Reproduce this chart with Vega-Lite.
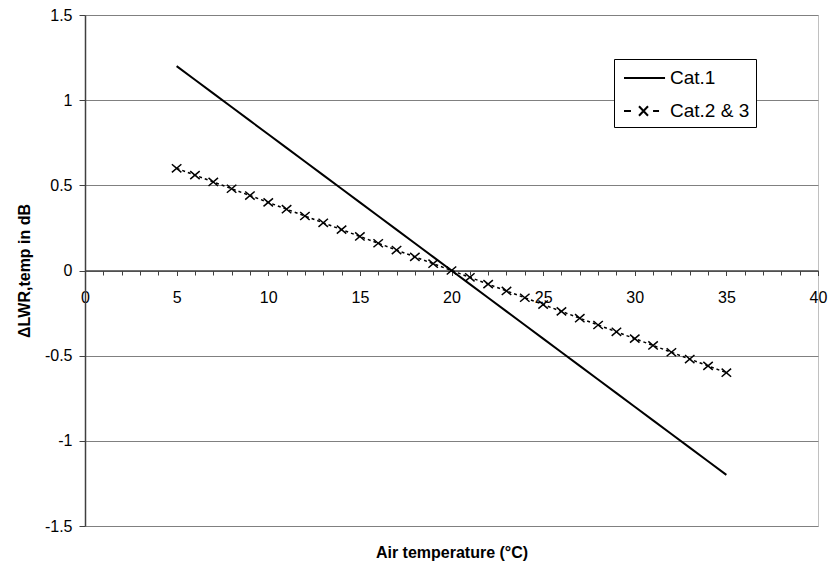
{
  "$schema": "https://vega.github.io/schema/vega-lite/v6.json",
  "width": 733,
  "height": 511,
  "autosize": {"type": "none"},
  "padding": {"left": 85, "top": 15, "right": 10, "bottom": 42},
  "background": "white",
  "config": {
    "font": "Liberation Sans",
    "view": {"stroke": "#c0c0c0", "strokeWidth": 1}
  },
  "data": {
    "values": [
      {"t": 5, "dL": 1.2, "cat": "Cat.1"}, {"t": 6, "dL": 1.12, "cat": "Cat.1"}, {"t": 7, "dL": 1.04, "cat": "Cat.1"}, {"t": 8, "dL": 0.96, "cat": "Cat.1"}, {"t": 9, "dL": 0.88, "cat": "Cat.1"}, {"t": 10, "dL": 0.8, "cat": "Cat.1"}, {"t": 11, "dL": 0.72, "cat": "Cat.1"}, {"t": 12, "dL": 0.64, "cat": "Cat.1"}, {"t": 13, "dL": 0.56, "cat": "Cat.1"}, {"t": 14, "dL": 0.48, "cat": "Cat.1"}, {"t": 15, "dL": 0.4, "cat": "Cat.1"}, {"t": 16, "dL": 0.32, "cat": "Cat.1"}, {"t": 17, "dL": 0.24, "cat": "Cat.1"}, {"t": 18, "dL": 0.16, "cat": "Cat.1"}, {"t": 19, "dL": 0.08, "cat": "Cat.1"}, {"t": 20, "dL": 0, "cat": "Cat.1"}, {"t": 21, "dL": -0.08, "cat": "Cat.1"}, {"t": 22, "dL": -0.16, "cat": "Cat.1"}, {"t": 23, "dL": -0.24, "cat": "Cat.1"}, {"t": 24, "dL": -0.32, "cat": "Cat.1"}, {"t": 25, "dL": -0.4, "cat": "Cat.1"}, {"t": 26, "dL": -0.48, "cat": "Cat.1"}, {"t": 27, "dL": -0.56, "cat": "Cat.1"}, {"t": 28, "dL": -0.64, "cat": "Cat.1"}, {"t": 29, "dL": -0.72, "cat": "Cat.1"}, {"t": 30, "dL": -0.8, "cat": "Cat.1"}, {"t": 31, "dL": -0.88, "cat": "Cat.1"}, {"t": 32, "dL": -0.96, "cat": "Cat.1"}, {"t": 33, "dL": -1.04, "cat": "Cat.1"}, {"t": 34, "dL": -1.12, "cat": "Cat.1"}, {"t": 35, "dL": -1.2, "cat": "Cat.1"},
      {"t": 5, "dL": 0.6, "cat": "Cat.2 & 3"}, {"t": 6, "dL": 0.56, "cat": "Cat.2 & 3"}, {"t": 7, "dL": 0.52, "cat": "Cat.2 & 3"}, {"t": 8, "dL": 0.48, "cat": "Cat.2 & 3"}, {"t": 9, "dL": 0.44, "cat": "Cat.2 & 3"}, {"t": 10, "dL": 0.4, "cat": "Cat.2 & 3"}, {"t": 11, "dL": 0.36, "cat": "Cat.2 & 3"}, {"t": 12, "dL": 0.32, "cat": "Cat.2 & 3"}, {"t": 13, "dL": 0.28, "cat": "Cat.2 & 3"}, {"t": 14, "dL": 0.24, "cat": "Cat.2 & 3"}, {"t": 15, "dL": 0.2, "cat": "Cat.2 & 3"}, {"t": 16, "dL": 0.16, "cat": "Cat.2 & 3"}, {"t": 17, "dL": 0.12, "cat": "Cat.2 & 3"}, {"t": 18, "dL": 0.08, "cat": "Cat.2 & 3"}, {"t": 19, "dL": 0.04, "cat": "Cat.2 & 3"}, {"t": 20, "dL": 0, "cat": "Cat.2 & 3"}, {"t": 21, "dL": -0.04, "cat": "Cat.2 & 3"}, {"t": 22, "dL": -0.08, "cat": "Cat.2 & 3"}, {"t": 23, "dL": -0.12, "cat": "Cat.2 & 3"}, {"t": 24, "dL": -0.16, "cat": "Cat.2 & 3"}, {"t": 25, "dL": -0.2, "cat": "Cat.2 & 3"}, {"t": 26, "dL": -0.24, "cat": "Cat.2 & 3"}, {"t": 27, "dL": -0.28, "cat": "Cat.2 & 3"}, {"t": 28, "dL": -0.32, "cat": "Cat.2 & 3"}, {"t": 29, "dL": -0.36, "cat": "Cat.2 & 3"}, {"t": 30, "dL": -0.4, "cat": "Cat.2 & 3"}, {"t": 31, "dL": -0.44, "cat": "Cat.2 & 3"}, {"t": 32, "dL": -0.48, "cat": "Cat.2 & 3"}, {"t": 33, "dL": -0.52, "cat": "Cat.2 & 3"}, {"t": 34, "dL": -0.56, "cat": "Cat.2 & 3"}, {"t": 35, "dL": -0.6, "cat": "Cat.2 & 3"}
    ]
  },
  "encoding": {
    "y": {
      "field": "dL",
      "type": "quantitative",
      "scale": {"domain": [-1.5, 1.5], "nice": false, "zero": false},
      "axis": {
        "values": [-1.5, -1, -0.5, 0, 0.5, 1, 1.5],
        "labelExpr": "toString(datum.value)",
        "grid": true,
        "gridColor": "#808080",
        "gridWidth": 1,
        "domainColor": "#404040",
        "domainWidth": 1.5,
        "tickColor": "#404040",
        "tickSize": 6,
        "labelPadding": 7,
        "labelFontSize": 16,
        "labelColor": "black",
        "labelFlush": false,
        "labelBound": false,
        "labelOverlap": false,
        "title": "ΔLWR,temp in dB",
        "titleFontSize": 16,
        "titleFontWeight": "bold",
        "titleColor": "black",
        "titleX": -61,
        "titleAlign": "center",
        "titleBaseline": "middle"
      }
    }
  },
  "layer": [
    {
      "transform": [{"filter": "datum.cat === 'Cat.1'"}],
      "mark": {"type": "line", "color": "black", "strokeWidth": 2},
      "encoding": {
        "x": {
          "field": "t",
          "type": "quantitative",
          "scale": {"domain": [0, 40], "nice": false, "zero": false},
          "axis": {
            "values": [0, 5, 10, 15, 20, 25, 30, 35, 40],
            "offset": -255.5,
            "grid": false,
            "domainColor": "#404040",
            "domainWidth": 1.5,
            "tickColor": "#404040",
            "tickSize": 5,
            "labelPadding": 14,
            "labelFontSize": 16,
            "labelColor": "black",
            "labelFlush": false,
            "labelBound": false,
            "labelOverlap": false,
            "title": "Air temperature (°C)",
            "titleFontSize": 16,
            "titleFontWeight": "bold",
            "titleColor": "black",
            "titleY": 281.5,
            "titleBaseline": "middle"
          }
        }
      }
    },
    {
      "transform": [{"filter": "datum.cat === 'Cat.2 & 3'"}],
      "mark": {"type": "line", "color": "black", "strokeWidth": 1.5, "strokeDash": [3, 3]},
      "encoding": {
        "x": {
          "field": "t",
          "type": "quantitative",
          "scale": {"domain": [0, 40], "nice": false, "zero": false},
          "axis": {
            "values": [0,1,2,3,4,5,6,7,8,9,10,11,12,13,14,15,16,17,18,19,20,21,22,23,24,25,26,27,28,29,30,31,32,33,34,35,36,37,38,39,40],
            "offset": -255.5,
            "grid": false,
            "domain": false,
            "labels": false,
            "tickColor": "#404040",
            "tickSize": -4.5,
            "title": null
          }
        }
      }
    },
    {
      "transform": [{"filter": "datum.cat === 'Cat.2 & 3'"}],
      "mark": {"type": "point", "color": "black", "filled": false, "shape": "M-1,-0.85L1,0.85M-1,0.85L1,-0.85", "size": 90, "strokeWidth": 1.5, "opacity": 1},
      "encoding": {
        "x": {"field": "t", "type": "quantitative", "scale": {"domain": [0, 40], "nice": false, "zero": false}, "axis": null}
      }
    },
    {
      "transform": [{"filter": "false"}],
      "mark": {"type": "point", "color": "black", "filled": false, "strokeWidth": 2, "opacity": 1},
      "encoding": {
        "x": {"field": "t", "type": "quantitative", "scale": {"domain": [0, 40], "nice": false, "zero": false}, "axis": null},
        "shape": {
          "field": "cat",
          "type": "nominal",
          "scale": {
            "domain": ["Cat.1", "Cat.2 & 3"],
            "range": ["M-0.75,0L2.67,0", "M-0.75,0L-0.17,0M1.67,0L2.17,0M0.5,-0.4L1.25,0.4M0.5,0.4L1.25,-0.4"]
          },
          "legend": {
            "orient": "none",
            "legendX": 529,
            "legendY": 44,
            "title": null,
            "padding": 6,
            "strokeColor": "black",
            "fillColor": "white",
            "cornerRadius": 0,
            "symbolSize": 576,
            "symbolStrokeColor": "black",
            "symbolFillColor": "transparent",
            "symbolStrokeWidth": 2,
            "symbolOpacity": 1,
            "labelFontSize": 19,
            "labelColor": "black",
            "labelOffset": 24,
            "rowPadding": 10
          }
        }
      }
    }
  ],
  "resolve": {"axis": {"x": "independent"}}
}
